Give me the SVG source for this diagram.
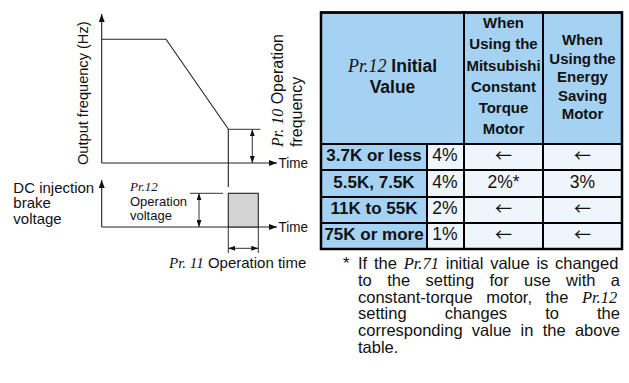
<svg xmlns="http://www.w3.org/2000/svg" width="629" height="383" viewBox="0 0 629 383">
<style>
text{font-family:"Liberation Sans",Arial,sans-serif;fill:#111}
.it{font-family:"Liberation Serif","Times New Roman",serif;font-style:italic;font-weight:normal}
.b{font-weight:bold}
.ln{stroke:#222;stroke-width:1.1;fill:none}
.dim{stroke:#333;stroke-width:1;fill:none}
.hd{fill:#a5d2f3;stroke:#000;stroke-width:2}
.lt{fill:#eef5fc;stroke:#000;stroke-width:2}
.c{text-anchor:middle}
.ar{font-family:"Noto Sans CJK JP","Noto Sans CJK SC",sans-serif;font-size:17px}
</style>
<defs>
<marker id="ax" viewBox="0 0 8 6" refX="8" refY="3" markerWidth="8" markerHeight="6" markerUnits="userSpaceOnUse" orient="auto-start-reverse"><path d="M0,0 L8,3 L0,6 z" fill="#111"/></marker>
<marker id="dm" viewBox="0 0 7 5" refX="7" refY="2.5" markerWidth="7" markerHeight="5" markerUnits="userSpaceOnUse" orient="auto-start-reverse"><path d="M0,0 L7,2.5 L0,5 z" fill="#111"/></marker>
</defs>

<g id="connectors">
<line class="ln" x1="101.7" y1="163" x2="101.7" y2="14" marker-end="url(#ax)"/>
<line class="ln" x1="101.7" y1="163" x2="277" y2="163" marker-end="url(#ax)"/>
<polyline class="ln" points="101.7,39.3 166,39.3 228.3,129"/>
<line class="ln" x1="228.3" y1="129" x2="228.3" y2="187"/>
<line class="dim" x1="228.3" y1="129.3" x2="260.5" y2="129.3"/>
<line class="dim" x1="252.3" y1="129.3" x2="252.3" y2="163" marker-start="url(#dm)" marker-end="url(#dm)"/>
<line class="ln" x1="101.7" y1="227" x2="101.7" y2="180" marker-end="url(#ax)"/>
<line class="ln" x1="101.7" y1="227" x2="277" y2="227" marker-end="url(#ax)"/>
<line class="dim" x1="190" y1="193.3" x2="223" y2="193.3"/>
<line class="dim" x1="199" y1="193.3" x2="199" y2="227" marker-start="url(#dm)" marker-end="url(#dm)"/>
<line class="dim" x1="228.3" y1="227" x2="228.3" y2="253"/>
<line class="dim" x1="258.3" y1="227" x2="258.3" y2="253"/>
<line class="dim" x1="228.3" y1="248.3" x2="258.3" y2="248.3" marker-start="url(#dm)" marker-end="url(#dm)"/>
</g>

<g id="freq-chart">
<text transform="translate(87.5,165) rotate(-90)" font-size="14.6">Output frequency (Hz)</text>
<text x="278.5" y="168" font-size="14.5" textLength="29.5" lengthAdjust="spacingAndGlyphs">Time</text>
<text transform="translate(282.5,147) rotate(-90)" font-size="16"><tspan class="it">Pr. 10</tspan> Operation</text>
<text transform="translate(302,147) rotate(-90)" font-size="16">frequency</text>
</g>

<g id="brake-chart">
<text x="13.3" y="192.7" font-size="15">DC injection</text>
<text x="13.3" y="208.3" font-size="15">brake</text>
<text x="13.3" y="224" font-size="15">voltage</text>
<text x="130" y="190.7" font-size="13" class="it">Pr.12</text>
<text x="130" y="205.5" font-size="13">Operation</text>
<text x="130" y="220.2" font-size="13">voltage</text>
<rect x="228.3" y="193.3" width="30" height="33.7" fill="#d4d4d4" stroke="#222" stroke-width="1.1"/>
<text x="278.5" y="232" font-size="14.5" textLength="29.5" lengthAdjust="spacingAndGlyphs">Time</text>
<text x="169" y="268.3" font-size="15"><tspan class="it">Pr. 11</tspan> Operation time</text>
</g>

<g id="table">
<rect class="hd" x="321" y="12.5" width="143" height="131.5"/>
<rect class="hd" x="464" y="12.5" width="79" height="131.5"/>
<rect class="hd" x="543" y="12.5" width="79" height="131.5"/>
<text class="b c" x="392.5" y="71.7" font-size="17.5"><tspan class="it" font-size="18">Pr.12</tspan> Initial</text>
<text class="b c" x="392.5" y="93.3" font-size="17.5">Value</text>
<g class="b c" font-size="15">
<text x="503.5" y="28.3">When</text>
<text x="503.5" y="49.4">Using the</text>
<text x="503.5" y="70.5">Mitsubishi</text>
<text x="503.5" y="91.6">Constant</text>
<text x="503.5" y="112.7">Torque</text>
<text x="503.5" y="133.8">Motor</text>
<text x="582.5" y="45">When</text>
<text x="582.5" y="63.6" word-spacing="-2">Using the</text>
<text x="582.5" y="82.2">Energy</text>
<text x="582.5" y="100.8">Saving</text>
<text x="582.5" y="119.4">Motor</text>
</g>
<rect class="hd" x="321" y="144" width="106" height="26"/>
<rect class="lt" x="427" y="144" width="37" height="26"/>
<rect class="lt" x="464" y="144" width="79" height="26"/>
<rect class="lt" x="543" y="144" width="79" height="26"/>
<rect class="hd" x="321" y="170" width="106" height="27"/>
<rect class="lt" x="427" y="170" width="37" height="27"/>
<rect class="lt" x="464" y="170" width="79" height="27"/>
<rect class="lt" x="543" y="170" width="79" height="27"/>
<rect class="hd" x="321" y="197" width="106" height="26"/>
<rect class="lt" x="427" y="197" width="37" height="26"/>
<rect class="lt" x="464" y="197" width="79" height="26"/>
<rect class="lt" x="543" y="197" width="79" height="26"/>
<rect class="hd" x="321" y="223" width="106" height="26"/>
<rect class="lt" x="427" y="223" width="37" height="26"/>
<rect class="lt" x="464" y="223" width="79" height="26"/>
<rect class="lt" x="543" y="223" width="79" height="26"/>
<rect x="321" y="12.5" width="301" height="236.5" fill="none" stroke="#000" stroke-width="2.5"/>
<g class="b c" font-size="17">
<text x="374" y="161">3.7K or less</text>
<text x="374" y="187.5">5.5K, 7.5K</text>
<text x="374" y="214">11K to 55K</text>
<text x="374" y="240">75K or more</text>
</g>
<g class="c" font-size="17.5">
<text x="445" y="161">4%</text>
<text x="445" y="187.5">4%</text>
<text x="445" y="214">2%</text>
<text x="445" y="240">1%</text>
<text class="ar" x="503.5" y="162">←</text>
<text x="503.5" y="187.5">2%*</text>
<text class="ar" x="503.5" y="215">←</text>
<text class="ar" x="503.5" y="241">←</text>
<text class="ar" x="582.5" y="162">←</text>
<text x="582.5" y="187.5">3%</text>
<text class="ar" x="582.5" y="215">←</text>
<text class="ar" x="582.5" y="241">←</text>
</g>
</g>

<g id="footnote" font-size="16.5">
<text x="343" y="269">*</text>
<text x="358" y="269" word-spacing="2.2">If the <tspan class="it">Pr.71</tspan> initial value is changed</text>
<text x="358" y="285.8" word-spacing="10.8">to the setting for use with a</text>
<text x="358" y="302.6" word-spacing="8.9">constant-torque motor, the <tspan class="it">Pr.12</tspan></text>
<text x="358" y="319.4" word-spacing="33.5">setting changes to the</text>
<text x="358" y="336.2" word-spacing="4.7">corresponding value in the above</text>
<text x="358" y="353">table.</text>
</g>
</svg>
